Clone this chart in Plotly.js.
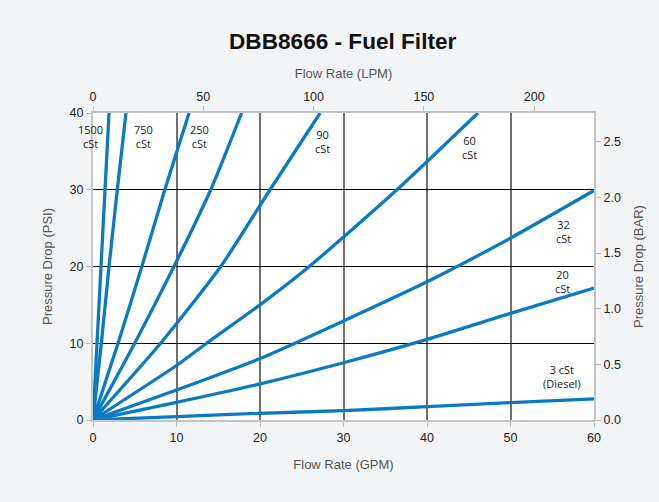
<!DOCTYPE html>
<html>
<head>
<meta charset="utf-8">
<script src="https://cdn.plot.ly/plotly-3.0.1.min.js"></script>
<style>
  html, body { margin: 0; padding: 0; background: #f3f4f6; }
  #chart { width: 659px; height: 502px; }
</style>
</head>
<body>
<div id="chart"></div>
<script>
// Viscosity curves: flow rate (GPM) vs pressure drop (PSI)
const gpm1500 = [0, 0.48, 0.96, 1.44, 1.92];
const psi1500 = [0, 10, 20, 30, 40];
const gpm750 = [0, 1.0, 1.92, 2.91, 3.95];
const psi750 = [0, 10, 20, 30, 40];
const gpm250 = [0, 3.0, 5.85, 8.6, 11.5];
const psi250 = [0, 10, 20, 30, 40];
const gpmMid = [0, 5.0, 9.7, 14.1, 17.8];
const psiMid = [0, 10, 20, 30, 40];
const gpm90 = [0, 8.1, 15.3, 21.2, 27.2];
const psi90 = [0, 10, 20, 30, 40];
const gpm60 = [0, 10, 13.6, 20, 25.9, 36.4, 46.1];
const psi60 = [0, 7.1, 10, 15.0, 20, 30, 40];
const gpmLow = [0, 10, 20, 30, 40, 50, 60];
const psi32 = [0, 3.9, 8.0, 12.9, 18.0, 23.7, 29.9];
const psi20 = [0, 2.3, 4.7, 7.46, 10.5, 13.9, 17.2];
const psi3 = [0, 0.45, 0.87, 1.22, 1.73, 2.26, 2.74];

const curveLabels = ['1500<br>cSt', '750<br>cSt', '250<br>cSt', '90<br>cSt', '60<br>cSt', '32<br>cSt', '20<br>cSt', '3 cSt<br>(Diesel)'];
const labelGpm = [0, 6.1, 12.8, 27.5, 45.1, 56.3, 56.2, 56.2];
const labelPsi = [36.9, 36.9, 36.9, 36.3, 35.5, 24.6, 18.0, 5.7];

const gpmMax = 60, psiMax = 40;
const LPM_PER_GPM = 3.78541, BAR_PER_PSI = 0.0689476;

const blue = '#0a7bc2';
function curve(x, y) {
  return { x: x, y: y, type: 'scatter', mode: 'lines',
           line: { color: blue, width: 3.3, shape: 'spline', smoothing: 0.6 },
           hoverinfo: 'skip', showlegend: false };
}
const traces = [
  curve(gpm1500, psi1500), curve(gpm750, psi750), curve(gpm250, psi250),
  curve(gpmMid, psiMid), curve(gpm90, psi90), curve(gpm60, psi60),
  curve(gpmLow, psi32), curve(gpmLow, psi20), curve(gpmLow, psi3),
  { x: [], y: [], xaxis: 'x2', yaxis: 'y2', type: 'scatter', mode: 'lines', showlegend: false }
];

const tickFont = { family: 'Liberation Sans, Arial, sans-serif', size: 12.5, color: '#222' };
const titleFont = { family: 'Liberation Sans, Arial, sans-serif', size: 13, color: '#555' };
const axisCommon = {
  ticks: 'outside', ticklen: 5, tickwidth: 1, tickcolor: '#bbb',
  showline: true, linecolor: '#c4c4c4', linewidth: 2,
  zeroline: false, tickfont: tickFont, fixedrange: true
};

const annotations = curveLabels.map((t, i) => ({
  x: labelGpm[i], y: labelPsi[i], xref: 'x', yref: 'y', text: t, showarrow: false,
  xshift: i === 0 ? -3 : 0,
  font: { family: 'Open Sans, Noto Sans, sans-serif', size: 11, color: '#222' },
  align: 'center', xanchor: 'center', yanchor: 'middle'
}));

const layout = {
  width: 659, height: 502,
  paper_bgcolor: '#f3f4f6', plot_bgcolor: '#ffffff',
  margin: { l: 93, r: 65, t: 113, b: 82, autoexpand: false },
  title: { text: 'DBB8666 - Fuel Filter', x: 0.52, xanchor: 'center', y: 1 - 41 / 502, yanchor: 'middle', yref: 'container',
           font: { family: 'Liberation Sans, Arial, sans-serif', size: 22.6, color: '#111', weight: 'bold' } },
  xaxis: Object.assign({}, axisCommon, {
    range: [0, gpmMax], tick0: 0, dtick: 10,
    showgrid: true, gridcolor: '#707070', gridwidth: 2,
    title: { text: 'Flow Rate (GPM)', font: titleFont, standoff: 16 }
  }),
  yaxis: Object.assign({}, axisCommon, {
    range: [0, psiMax], tick0: 0, dtick: 10,
    showgrid: true, gridcolor: '#000000', gridwidth: 1,
    title: { text: 'Pressure Drop (PSI)', font: titleFont, standoff: 14 }
  }),
  xaxis2: Object.assign({}, axisCommon, {
    overlaying: 'x', side: 'top', anchor: 'y',
    range: [0, gpmMax * LPM_PER_GPM], tick0: 0, dtick: 50, showgrid: false,
    title: { text: 'Flow Rate (LPM)', font: titleFont, standoff: 8 }
  }),
  yaxis2: Object.assign({}, axisCommon, {
    overlaying: 'y', side: 'right', anchor: 'x',
    range: [0, psiMax * BAR_PER_PSI], tick0: 0, dtick: 0.5, tickformat: '.1f', showgrid: false,
    title: { text: 'Pressure Drop (BAR)', font: titleFont, standoff: 14 }
  }),
  annotations: annotations
};

Plotly.newPlot('chart', traces, layout, { displayModeBar: false, staticPlot: true });
</script>
</body>
</html>
